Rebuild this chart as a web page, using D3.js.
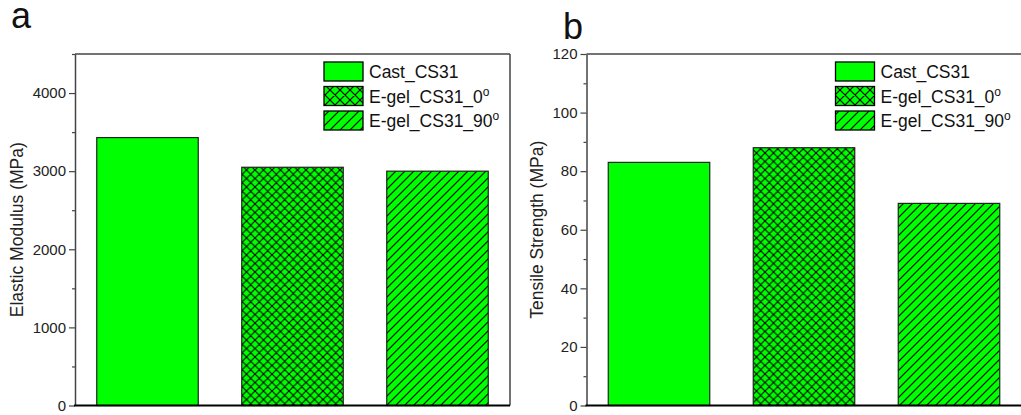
<!DOCTYPE html>
<html>
<head>
<meta charset="utf-8">
<script src="https://cdn.jsdelivr.net/npm/d3@7"></script>
<style>
  html, body { margin: 0; padding: 0; background: #fff; }
  svg { display: block; font-family: "Liberation Sans", Arial, sans-serif; }
</style>
</head>
<body>
<svg id="chart" width="1021" height="415"></svg>
<script>
// Sample names and fill styles
const categories = ["Cast_CS31", "E-gel_CS31_0", "E-gel_CS31_90"];
const categorySup = ["", "o", "o"];
const hatches = ["solid", "cross", "diag"];

// Panel a: elastic modulus (MPa)
const modulusValues = [3430, 3050, 3000];
const modulusTicks = [0, 1000, 2000, 3000, 4000];
const modulusMinor = [500, 1500, 2500, 3500, 4500];

// Panel b: tensile strength (MPa)
const strengthValues = [83, 88, 69];
const strengthTicks = [0, 20, 40, 60, 80, 100, 120];
const strengthMinor = [10, 30, 50, 70, 90, 110];

const svg = d3.select("#chart");
const defs = svg.append("defs");
const GREEN = "#00ff00";

function makePattern(id, kind, p) {
  const pat = defs.append("pattern")
    .attr("id", id)
    .attr("patternUnits", "userSpaceOnUse")
    .attr("width", p).attr("height", p);
  const d = [];
  // "/" direction
  d.push(`M${-1},1 L1,-1 M0,${p} L${p},0 M${p - 1},${p + 1} L${p + 1},${p - 1}`);
  if (kind === "cross") {
    // "\" direction
    d.push(`M-1,${p - 1} L1,${p + 1} M0,0 L${p},${p} M${p - 1},-1 L${p + 1},1`);
  }
  pat.append("path").attr("d", d.join(" "))
    .attr("stroke", "#000").attr("stroke-width", 1.1).attr("fill", "none");
}
makePattern("bar-cross", "cross", 8.5);
makePattern("bar-diag", "diag", 9);
makePattern("leg-cross", "cross", 10);
makePattern("leg-diag", "diag", 10);

function patternFill(kind, prefix) {
  return kind === "solid" ? "none" : `url(#${prefix}-${kind})`;
}

function drawPanel(opt) {
  const { left, right, top, bottom, domainMax, values, ticks, minor, title, letter, letterX, letterY, titleX, clipRight } = opt;

  const g = svg.append("g");

  const x = d3.scaleBand()
    .domain(categories)
    .range([left, right])
    .paddingInner(0.3)
    .paddingOuter(0.15);

  const y = d3.scaleLinear().domain([0, domainMax]).range([bottom, top]);

  // Frame: top and right edges
  g.append("line")
    .attr("x1", left).attr("x2", right)
    .attr("y1", top).attr("y2", top)
    .attr("stroke", "#444").attr("stroke-width", 1.5);
  if (!clipRight) {
    g.append("line")
      .attr("x1", right).attr("x2", right)
      .attr("y1", top).attr("y2", bottom)
      .attr("stroke", "#444").attr("stroke-width", 1.5);
  }

  // Bars
  const bars = g.append("g");
  categories.forEach((c, i) => {
    const bx = x(c), bw = x.bandwidth(), by = y(values[i]), bh = y(0) - y(values[i]);
    bars.append("rect")
      .attr("x", bx).attr("y", by).attr("width", bw).attr("height", bh)
      .attr("fill", GREEN);
    if (hatches[i] !== "solid") {
      bars.append("rect")
        .attr("x", bx).attr("y", by).attr("width", bw).attr("height", bh)
        .attr("fill", patternFill(hatches[i], "bar"));
    }
    bars.append("rect")
      .attr("x", bx).attr("y", by).attr("width", bw).attr("height", bh)
      .attr("fill", "none").attr("stroke", "#222").attr("stroke-width", 1.2);
  });

  // Left axis with major and minor ticks
  const axis = d3.axisLeft(y).tickValues(ticks).tickSize(6).tickSizeOuter(0).tickPadding(3)
    .tickFormat(d3.format("d"));
  const ag = g.append("g").attr("transform", `translate(${left},0)`).call(axis);
  ag.select(".domain").attr("stroke", "#444").attr("stroke-width", 1.5);
  ag.selectAll(".tick line").attr("stroke", "#444").attr("stroke-width", 1.2);
  ag.selectAll(".tick text")
    .attr("font-family", "Liberation Sans, Arial, sans-serif")
    .attr("font-size", 15).attr("fill", "#222");

  const minorAxis = d3.axisLeft(y).tickValues(minor).tickSize(3).tickFormat("");
  const mg = g.append("g").attr("transform", `translate(${left},0)`).call(minorAxis);
  mg.select(".domain").remove();
  mg.selectAll(".tick line").attr("stroke", "#444").attr("stroke-width", 1.2);

  // Bottom axis line
  g.append("line")
    .attr("x1", left - 1).attr("x2", right)
    .attr("y1", bottom).attr("y2", bottom)
    .attr("stroke", "#000").attr("stroke-width", 2.2);

  // Axis title
  g.append("text")
    .attr("transform", `translate(${titleX},${(top + bottom) / 2}) rotate(-90)`)
    .attr("text-anchor", "middle")
    .attr("dominant-baseline", "central")
    .attr("font-size", 17.5).attr("fill", "#222")
    .text(title);

  // Panel letter
  g.append("text")
    .attr("x", letterX).attr("y", letterY)
    .attr("font-size", 36).attr("fill", "#111")
    .text(letter);

  // Legend
  const lx = left + 249, ly = 62, step = 24.5, bw = 39, bh = 19;
  const leg = g.append("g");
  categories.forEach((c, i) => {
    const yy = ly + i * step;
    leg.append("rect").attr("x", lx).attr("y", yy).attr("width", bw).attr("height", bh)
      .attr("fill", GREEN);
    if (hatches[i] !== "solid") {
      leg.append("rect").attr("x", lx).attr("y", yy).attr("width", bw).attr("height", bh)
        .attr("fill", patternFill(hatches[i], "leg"));
    }
    leg.append("rect").attr("x", lx).attr("y", yy).attr("width", bw).attr("height", bh)
      .attr("fill", "none").attr("stroke", "#000").attr("stroke-width", 1.3);
    const t = leg.append("text")
      .attr("x", lx + 45).attr("y", yy + 16)
      .attr("font-size", 17.5).attr("fill", "#111");
    t.append("tspan").text(c);
    if (categorySup[i]) {
      t.append("tspan").attr("dy", -7).attr("font-size", 12).text(categorySup[i]);
    }
  });
}

drawPanel({
  left: 75, right: 510, top: 54, bottom: 405.5,
  domainMax: 4500, values: modulusValues, ticks: modulusTicks, minor: modulusMinor,
  title: "Elastic Modulus (MPa)", letter: "a", letterX: 11, letterY: 28, titleX: 17,
  clipRight: false
});

drawPanel({
  left: 586.5, right: 1021.5, top: 54, bottom: 405.5,
  domainMax: 120, values: strengthValues, ticks: strengthTicks, minor: strengthMinor,
  title: "Tensile Strength (MPa)", letter: "b", letterX: 563, letterY: 39, titleX: 537,
  clipRight: true
});
</script>
</body>
</html>
